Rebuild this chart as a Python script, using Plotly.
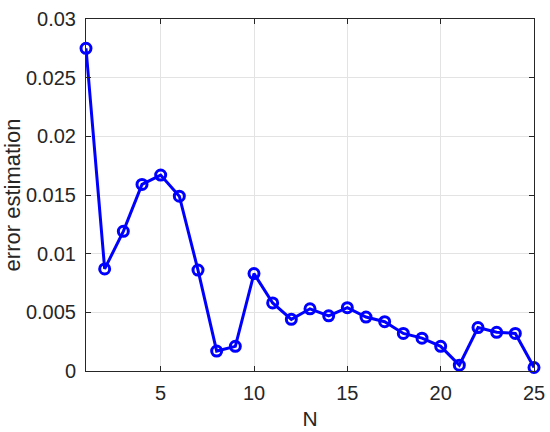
import plotly.graph_objects as go

n_values = list(range(1, 26))
error_est = [0.0275, 0.0087, 0.0119, 0.0159, 0.0167, 0.0149, 0.0086, 0.0017, 0.0021, 0.0083,
             0.0058, 0.0044, 0.0053, 0.0047, 0.0054, 0.0046, 0.0042, 0.0032, 0.0028, 0.0021,
             0.0005, 0.0037, 0.0033, 0.0032, 0.0003]

y_ticks = [0, 0.005, 0.01, 0.015, 0.02, 0.025, 0.03]
y_labels = ["0", "0.005", "0.01", "0.015", "0.02", "0.025", "0.03"]
x_ticks = [5, 10, 15, 20, 25]

font_name = "Liberation Sans, Arial"

fig = go.Figure()
fig.add_trace(go.Scatter(
    x=n_values, y=error_est, mode="lines+markers",
    line=dict(color="#0000ff", width=3),
    marker=dict(symbol="circle-open", size=10, color="#0000ff", line=dict(width=3)),
    cliponaxis=False,
))

axis_common = dict(
    showline=True, linecolor="#262626", linewidth=1, mirror="ticks",
    ticks="inside", ticklen=5, tickcolor="#262626",
    showgrid=True, gridcolor="#e3e3e3", gridwidth=1, zeroline=False,
    tickfont=dict(family=font_name, size=20, color="#262626"),
    automargin=False,
)

fig.update_xaxes(range=[1, 25], tickvals=x_ticks, ticklabelstandoff=4,
                 title=dict(text="N", font=dict(family=font_name, size=21, color="#262626"), standoff=8),
                 **axis_common)
fig.update_yaxes(range=[0, 0.03], tickvals=y_ticks, ticktext=y_labels, ticklabelstandoff=5,
                 title=dict(text="error estimation", font=dict(family=font_name, size=22, color="#262626"), standoff=6),
                 **axis_common)

fig.update_layout(
    width=550, height=432,
    margin=dict(l=86, r=16, t=19, b=61),
    plot_bgcolor="white", paper_bgcolor="white",
    showlegend=False,
)
# drop the default body margin so the figure sits at the window's corner
fig.write_html("out.html", config={"displayModeBar": False},
               post_script="document.body.style.margin='0';")
